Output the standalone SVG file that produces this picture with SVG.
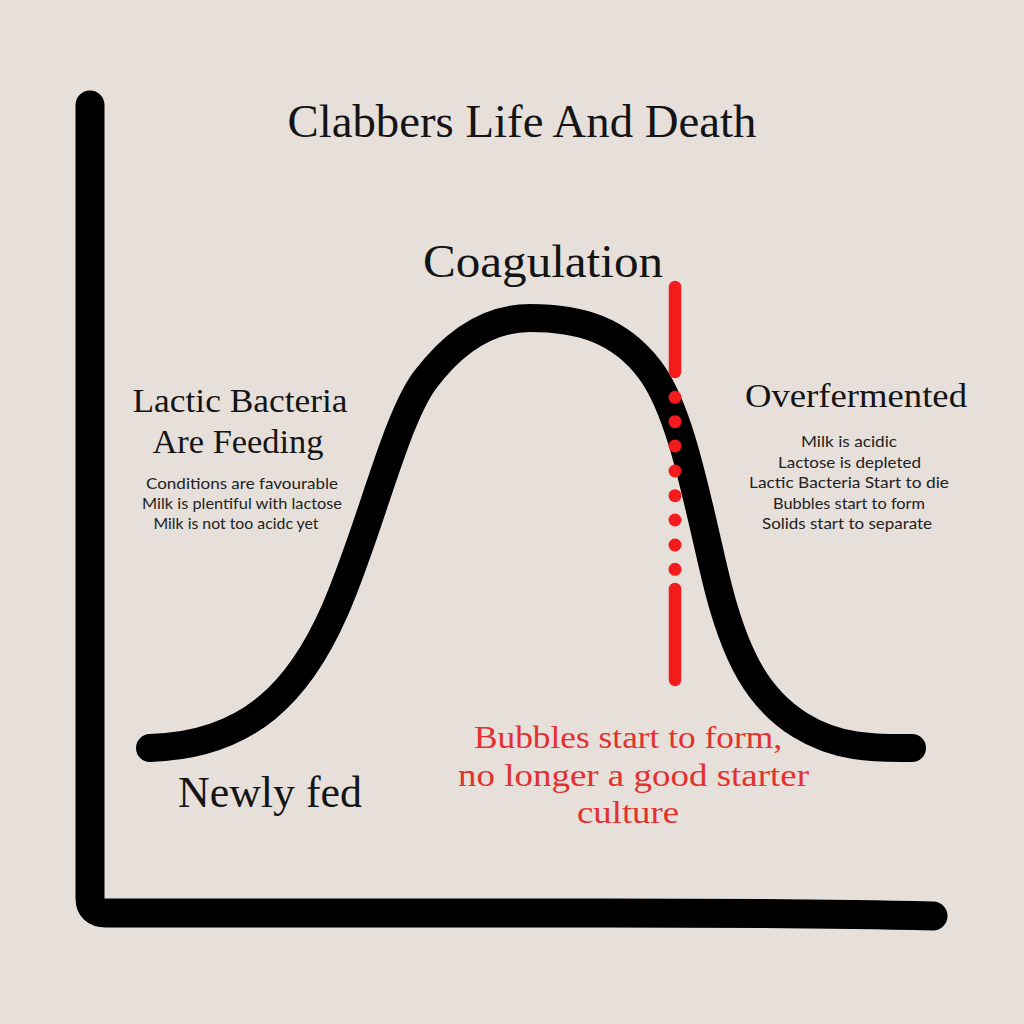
<svg xmlns="http://www.w3.org/2000/svg" width="1024" height="1024" viewBox="0 0 1024 1024">
<style>
.serif{font-family:"Liberation Serif","Times New Roman",serif;fill:#141414;text-anchor:middle}
.sans{font-family:Lato,"Liberation Sans",sans-serif;fill:#222;text-anchor:middle;font-size:15px}
.red{font-family:"Liberation Serif","Times New Roman",serif;fill:#e2312f;text-anchor:middle;font-size:31px}
.ink{fill:none;stroke:#000;stroke-linecap:round;stroke-linejoin:round}
.cut{stroke:#f41b1d;stroke-width:12.5;stroke-linecap:round;fill:none}
</style>
<rect width="1024" height="1024" fill="#e6dfda"/>
<g id="axes">
<path class="ink" stroke-width="29" d="M90,105 V898 Q90,913 106,913 L600,913 Q800,913 933,916"/>
</g>
<g id="curve">
<path class="ink" stroke-width="28" d="M150,748 C250,745 300,690 335,610 C370,530 395,420 425,380 C455,340 490,318 530,318 C580,318 620,330 650,370 C680,410 695,490 715,575 C735,660 760,700 800,725 C840,750 880,748 912,748"/>
</g>
<g id="cutoff-line">
<line class="cut" x1="675" y1="287" x2="675" y2="372"/>
<g fill="#f41b1d">
<circle cx="675" cy="397.3" r="6.5"/>
<circle cx="675" cy="421.7" r="6.5"/>
<circle cx="675" cy="446" r="6.5"/>
<circle cx="675" cy="471" r="6.5"/>
<circle cx="675" cy="495.7" r="6.5"/>
<circle cx="675" cy="520" r="6.5"/>
<circle cx="675" cy="545" r="6.5"/>
<circle cx="675" cy="569.3" r="6.5"/>
</g>
<line class="cut" x1="675" y1="589" x2="675" y2="680"/>
</g>
<g id="title">
<text class="serif" x="522" y="137" font-size="46" textLength="469" lengthAdjust="spacingAndGlyphs">Clabbers Life And Death</text>
</g>
<g id="coagulation">
<text class="serif" x="543" y="277" font-size="46" textLength="240" lengthAdjust="spacingAndGlyphs">Coagulation</text>
</g>
<g id="feeding">
<text class="serif" x="240" y="412" font-size="34" textLength="215" lengthAdjust="spacingAndGlyphs">Lactic Bacteria</text>
<text class="serif" x="238" y="453" font-size="34" textLength="171" lengthAdjust="spacingAndGlyphs">Are Feeding</text>
<text class="sans" x="242" y="489" textLength="192" lengthAdjust="spacingAndGlyphs">Conditions are favourable</text>
<text class="sans" x="242" y="509" textLength="200" lengthAdjust="spacingAndGlyphs">Milk is plentiful with lactose</text>
<text class="sans" x="236" y="529" textLength="165" lengthAdjust="spacingAndGlyphs">Milk is not too acidc yet</text>
</g>
<g id="overfermented">
<text class="serif" x="856" y="407" font-size="34" textLength="222" lengthAdjust="spacingAndGlyphs">Overfermented</text>
<text class="sans" x="849" y="447" textLength="96" lengthAdjust="spacingAndGlyphs">Milk is acidic</text>
<text class="sans" x="849.5" y="468" textLength="143" lengthAdjust="spacingAndGlyphs">Lactose is depleted</text>
<text class="sans" x="849" y="488" textLength="200" lengthAdjust="spacingAndGlyphs">Lactic Bacteria Start to die</text>
<text class="sans" x="849" y="509" textLength="152" lengthAdjust="spacingAndGlyphs">Bubbles start to form</text>
<text class="sans" x="847" y="529" textLength="170" lengthAdjust="spacingAndGlyphs">Solids start to separate</text>
</g>
<g id="newly-fed">
<text class="serif" x="270" y="807" font-size="44" textLength="184" lengthAdjust="spacingAndGlyphs">Newly fed</text>
</g>
<g id="warning">
<text class="red" x="628" y="748" textLength="308" lengthAdjust="spacingAndGlyphs">Bubbles start to form,</text>
<text class="red" x="633.5" y="786" textLength="351" lengthAdjust="spacingAndGlyphs">no longer a good starter</text>
<text class="red" x="628" y="823" textLength="102" lengthAdjust="spacingAndGlyphs">culture</text>
</g>
</svg>
